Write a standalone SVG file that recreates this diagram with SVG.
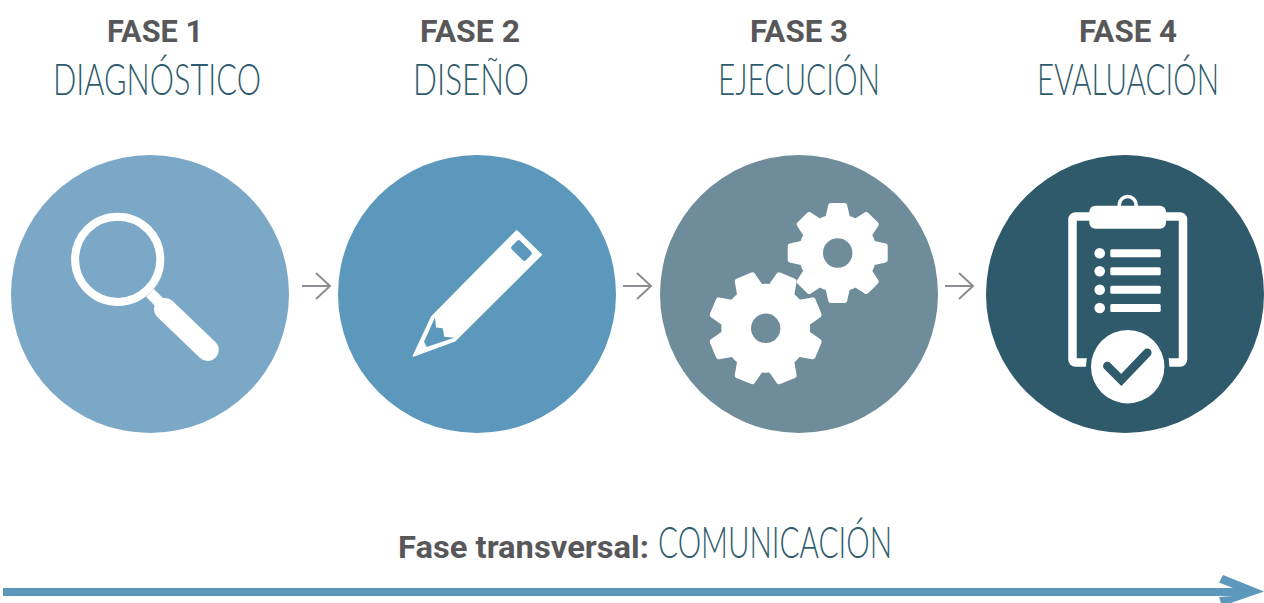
<svg xmlns="http://www.w3.org/2000/svg" xmlns:xlink="http://www.w3.org/1999/xlink" width="1264" height="603" viewBox="0 0 1264 603">
<style>
.fase{font-family:"Roboto","Liberation Sans",sans-serif;font-weight:700;font-size:31px;fill:#58585a}
.name{font-family:"Lato","Liberation Sans",sans-serif;font-weight:300;font-size:43px;fill:#2f5b6e}
.w{fill:#fff}
.a{fill:none;stroke:#8f8b95;stroke-width:2}
</style>
<defs>
<marker id="head" markerUnits="userSpaceOnUse" markerWidth="18" markerHeight="30" refX="15" refY="14" orient="auto" overflow="visible"><path d="M1 1L15 14L1 27" class="a"/></marker>
<g id="gear">
<circle r="39" class="w"/>
<g id="teeth"><path id="t" d="M-7-47.5H7L10-34H-10Z" fill="#fff" stroke="#fff" stroke-width="5" stroke-linejoin="round"/>
<use xlink:href="#t" transform="rotate(45)"/><use xlink:href="#t" transform="rotate(90)"/><use xlink:href="#t" transform="rotate(135)"/><use xlink:href="#t" transform="rotate(180)"/><use xlink:href="#t" transform="rotate(225)"/><use xlink:href="#t" transform="rotate(270)"/><use xlink:href="#t" transform="rotate(315)"/></g>
</g>
</defs>

<g id="connectors">
<path class="a" d="M302 286H330" marker-end="url(#head)"/>
<path class="a" d="M623 286H651" marker-end="url(#head)"/>
<path class="a" d="M945 286H973" marker-end="url(#head)"/>
<path id="timeline" d="M3 588H1233L1219 582.5L1223 575L1264 591.5L1222 606L1219 597L1233 596H3Z" fill="#5c98bc"/>
</g>

<g id="fase1">
<text class="fase" x="155" y="42" text-anchor="middle" textLength="96" lengthAdjust="spacingAndGlyphs">FASE 1</text>
<text class="name" x="53" y="95" textLength="208" lengthAdjust="spacingAndGlyphs">DIAGNÓSTICO</text>
<circle cx="150" cy="294" r="139" fill="#7ba8c7"/>
<circle cx="117.7" cy="259.3" r="42.6" fill="none" stroke="#fff" stroke-width="8"/>
<path d="M150 293L162 305" stroke="#fff" stroke-width="11"/>
<path d="M165 309L207.7 350" stroke="#fff" stroke-width="22" stroke-linecap="round"/>
</g>

<g id="fase2">
<text class="fase" x="470" y="42" text-anchor="middle" textLength="100" lengthAdjust="spacingAndGlyphs">FASE 2</text>
<text class="name" x="413" y="95" textLength="116" lengthAdjust="spacingAndGlyphs">DISEÑO</text>
<circle cx="477" cy="294" r="139" fill="#5c98bc"/>
<path class="w" d="M413.3 356L431.7 316.7L516.7 230.7L541.3 254.7L455 340.7Z" stroke="#fff" stroke-width="1.5" stroke-linejoin="round"/>
<rect x="511.5" y="244.5" width="20" height="12" rx="2.5" transform="rotate(45 521.5 250.5)" fill="#5c98bc"/>
<path d="M435 317.5L436 327.5L442.7 328.3L444.3 336.7L454.3 337.7L426.7 347L424 341.7Z" fill="#5c98bc"/>
</g>

<g id="fase3">
<text class="fase" x="799" y="42" text-anchor="middle" textLength="98" lengthAdjust="spacingAndGlyphs">FASE 3</text>
<text class="name" x="718" y="95" textLength="162" lengthAdjust="spacingAndGlyphs">EJECUCIÓN</text>
<circle cx="799" cy="294" r="139" fill="#6e8c99"/>
<use xlink:href="#gear" transform="translate(837.7 253)"/>
<circle cx="837.7" cy="253" r="14.7" fill="#6e8c99"/>
<use xlink:href="#gear" transform="translate(765.7 328.3) rotate(22.5) scale(1.14)"/>
<circle cx="765.7" cy="328.3" r="14.7" fill="#6e8c99"/>
</g>

<g id="fase4">
<text class="fase" x="1128" y="42" text-anchor="middle" textLength="98" lengthAdjust="spacingAndGlyphs">FASE 4</text>
<text class="name" transform="translate(1037 95) scale(.74 1)" x="0" y="0" textLength="246" lengthAdjust="spacingAndGlyphs">EVALUACIÓN</text>
<circle cx="1125" cy="294" r="139" fill="#2e5a6c"/>
<rect x="1072.5" y="216.5" width="110.5" height="146" rx="3" fill="none" stroke="#fff" stroke-width="8.5"/>
<circle cx="1127.7" cy="205" r="8.5" fill="none" stroke="#fff" stroke-width="3.5"/>
<rect x="1089.3" y="205.7" width="76.7" height="23" rx="6" class="w"/>
<circle cx="1099.7" cy="253.3" r="5.3" class="w"/><rect x="1110.3" y="249.3" width="50.4" height="8" rx="1.5" class="w"/>
<circle cx="1099.7" cy="271.3" r="5.3" class="w"/><rect x="1110.3" y="267.3" width="50.4" height="8" rx="1.5" class="w"/>
<circle cx="1099.7" cy="289.7" r="5.3" class="w"/><rect x="1110.3" y="285.7" width="50.4" height="8" rx="1.5" class="w"/>
<circle cx="1099.7" cy="308" r="5.3" class="w"/><rect x="1110.3" y="304" width="50.4" height="8" rx="1.5" class="w"/>
<circle cx="1127.7" cy="366.7" r="41.7" fill="#2e5a6c"/>
<circle cx="1127.7" cy="366.7" r="36.7" class="w"/>
<path d="M1107.3 366L1121.3 380L1147.3 352.7" fill="none" stroke="#2e5a6c" stroke-width="8.5" stroke-linecap="round" stroke-linejoin="miter"/>
</g>

<g id="transversal">
<text class="fase" x="398" y="558" textLength="251" lengthAdjust="spacingAndGlyphs">Fase transversal:</text>
<text class="name" x="658" y="558" textLength="234" lengthAdjust="spacingAndGlyphs">COMUNICACIÓN</text>
</g>
</svg>
